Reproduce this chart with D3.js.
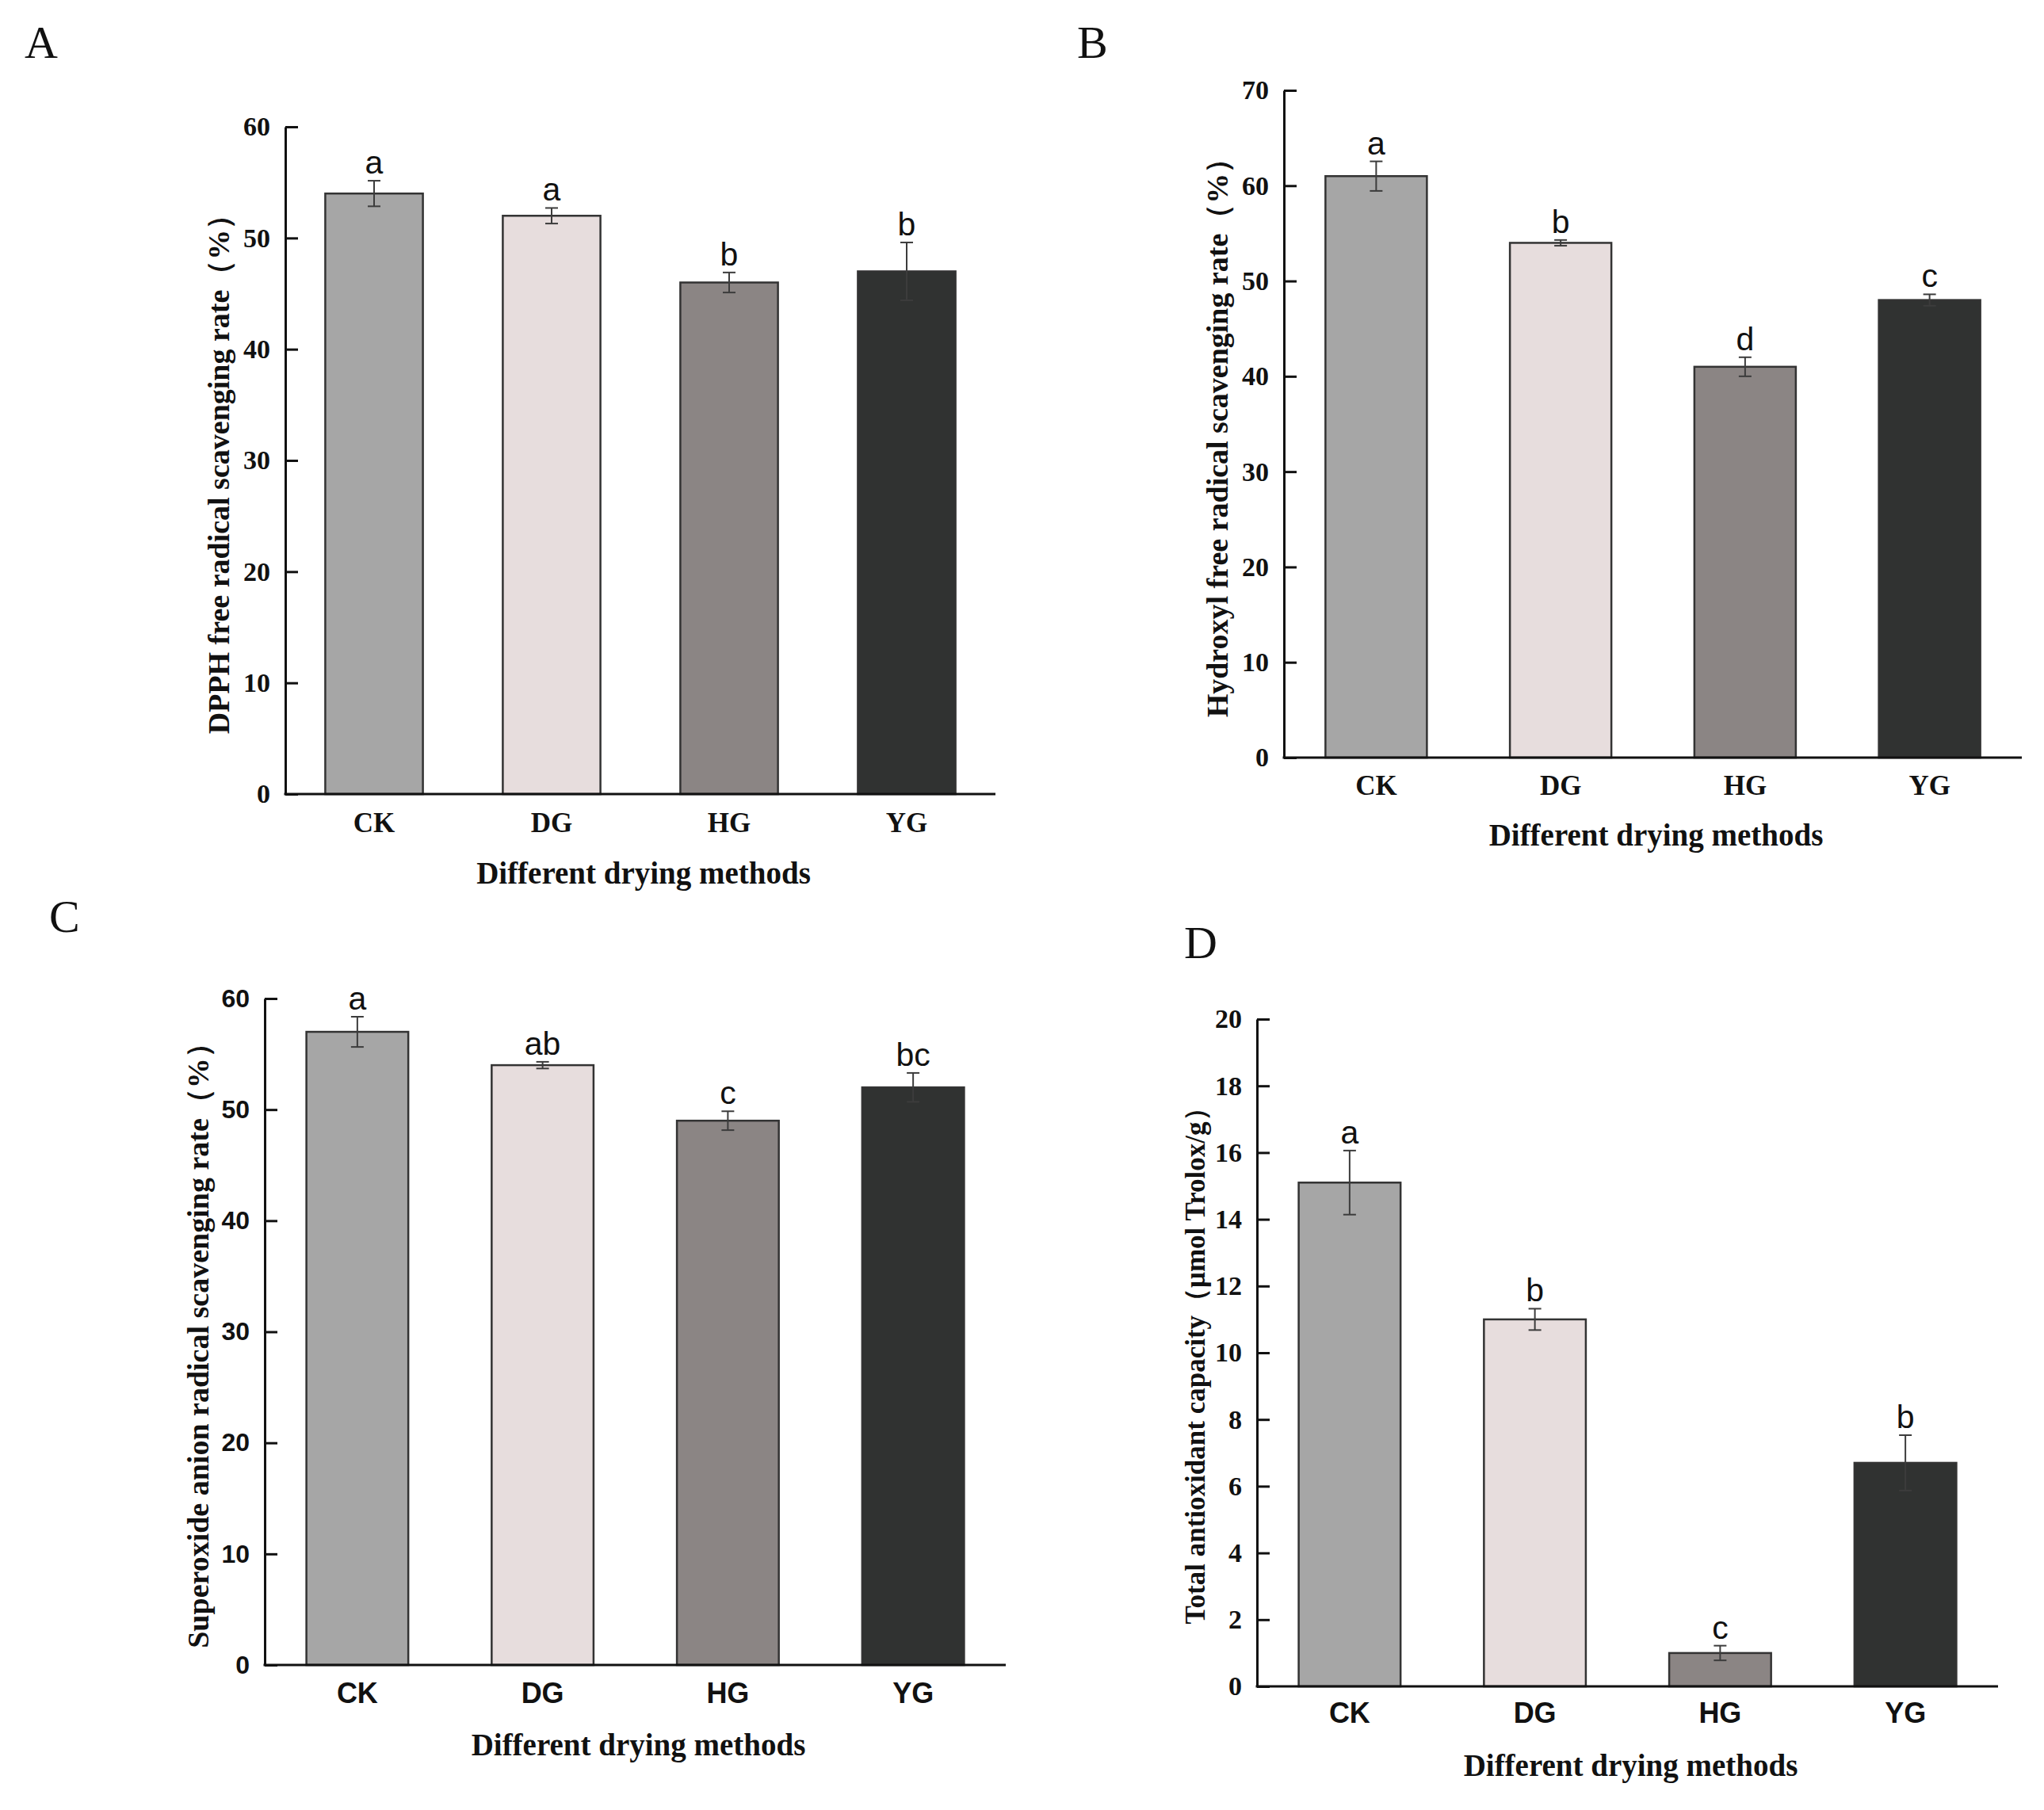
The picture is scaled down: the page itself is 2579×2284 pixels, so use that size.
<!DOCTYPE html>
<html>
<head>
<meta charset="utf-8">
<script src="https://cdn.jsdelivr.net/npm/d3@7"></script>
<style>
  html, body { margin: 0; padding: 0; background: #fff; }
</style>
</head>
<body>
<div id="chart"></div>
<script>
// categories and bar colours shared by the four panels
var categories = ["CK", "DG", "HG", "YG"];
var barColors = ["#a6a6a6", "#e7dddd", "#8b8584", "#303231"];

// A - DPPH
var dpphValues = [54, 52, 46, 47];
var dpphErrors = [1.15, 0.7, 0.9, 2.6];
var dpphLetters = ["a", "a", "b", "b"];
var dpphTicks = [0, 10, 20, 30, 40, 50, 60];

// B - hydroxyl
var hydroxylValues = [61, 54, 41, 48];
var hydroxylErrors = [1.55, 0.3, 1.0, 0.6];
var hydroxylLetters = ["a", "b", "d", "c"];
var hydroxylTicks = [0, 10, 20, 30, 40, 50, 60, 70];

// C - superoxide anion
var superoxideValues = [57, 54, 49, 52];
var superoxideErrors = [1.36, 0.3, 0.85, 1.3];
var superoxideLetters = ["a", "ab", "c", "bc"];
var superoxideTicks = [0, 10, 20, 30, 40, 50, 60];

// D - total antioxidant capacity
var tacValues = [15.1, 11.0, 1.0, 6.7];
var tacErrors = [0.96, 0.32, 0.22, 0.83];
var tacLetters = ["a", "b", "c", "b"];
var tacTicks = [0, 2, 4, 6, 8, 10, 12, 14, 16, 18, 20];

var serif = "'Liberation Serif', 'Times New Roman', serif";
var sans = "'Liberation Sans', Arial, sans-serif";

var W = 2579, H = 2284;

var svg = d3.select("#chart").append("svg")
    .attr("width", W)
    .attr("height", H)
    .style("background", "#fff");

var panels = [
    { tag: "A", tagX: 31, tagY: 73,
      values: dpphValues, errors: dpphErrors, letters: dpphLetters, ticks: dpphTicks,
      x0: 360, x1: 1256, yTop: 160, yBottom: 1002,
      tickFont: serif, tickSize: 34, catFont: serif, catSize: 35, catBase: 48,
      yTitle: "DPPH free radical scavenging rate（%）", yTitleX: 289, yTitleSize: 38,
      xTitleBase: 1115 },
    { tag: "B", tagX: 1359, tagY: 73,
      values: hydroxylValues, errors: hydroxylErrors, letters: hydroxylLetters, ticks: hydroxylTicks,
      x0: 1620, x1: 2551, yTop: 114, yBottom: 956,
      tickFont: serif, tickSize: 34, catFont: serif, catSize: 35, catBase: 47,
      yTitle: "Hydroxyl free radical scavenging rate（%）", yTitleX: 1549, yTitleSize: 38,
      xTitleBase: 1067 },
    { tag: "C", tagX: 62, tagY: 1176,
      values: superoxideValues, errors: superoxideErrors, letters: superoxideLetters, ticks: superoxideTicks,
      x0: 334, x1: 1269, yTop: 1260, yBottom: 2101,
      tickFont: sans, tickSize: 32, catFont: sans, catSize: 36, catBase: 48,
      yTitle: "Superoxide anion radical scavenging rate（%）", yTitleX: 263, yTitleSize: 38,
      xTitleBase: 2215 },
    { tag: "D", tagX: 1494, tagY: 1209,
      values: tacValues, errors: tacErrors, letters: tacLetters, ticks: tacTicks,
      x0: 1586, x1: 2521, yTop: 1286, yBottom: 2128,
      tickFont: serif, tickSize: 34, catFont: sans, catSize: 36, catBase: 46,
      yTitle: "Total antioxidant capacity（μmol Trolox/g）", yTitleX: 1520, yTitleSize: 35,
      xTitleBase: 2241 }
];

panels.forEach(drawPanel);

function drawPanel(p) {
    var g = svg.append("g");

    var x = d3.scaleBand()
        .domain(categories)
        .range([p.x0, p.x1])
        .paddingInner(0.45)
        .paddingOuter(0.225);

    var y = d3.scaleLinear()
        .domain([0, d3.max(p.ticks)])
        .range([p.yBottom, p.yTop]);

    var rows = categories.map(function(c, i) {
        return { cat: c, v: p.values[i], e: p.errors[i], letter: p.letters[i], fill: barColors[i] };
    });

    // bars
    g.selectAll("rect.bar")
        .data(rows)
        .enter().append("rect")
        .attr("class", "bar")
        .attr("x", function(d) { return x(d.cat); })
        .attr("width", x.bandwidth())
        .attr("y", function(d) { return y(d.v); })
        .attr("height", function(d) { return y(0) - y(d.v); })
        .attr("fill", function(d) { return d.fill; })
        .attr("stroke", "#333")
        .attr("stroke-width", 2.5);

    // error bars
    var eb = g.selectAll("g.err")
        .data(rows)
        .enter().append("g")
        .attr("class", "err")
        .attr("stroke", "#3c3c3c")
        .attr("stroke-width", 2);
    eb.append("line")
        .attr("x1", function(d) { return x(d.cat) + x.bandwidth() / 2; })
        .attr("x2", function(d) { return x(d.cat) + x.bandwidth() / 2; })
        .attr("y1", function(d) { return y(d.v - d.e); })
        .attr("y2", function(d) { return y(d.v + d.e); });
    [-1, 1].forEach(function(s) {
        eb.append("line")
            .attr("x1", function(d) { return x(d.cat) + x.bandwidth() / 2 - 8; })
            .attr("x2", function(d) { return x(d.cat) + x.bandwidth() / 2 + 8; })
            .attr("y1", function(d) { return y(d.v + s * d.e); })
            .attr("y2", function(d) { return y(d.v + s * d.e); });
    });

    // significance letters
    g.selectAll("text.sig")
        .data(rows)
        .enter().append("text")
        .attr("class", "sig")
        .attr("x", function(d) { return x(d.cat) + x.bandwidth() / 2; })
        .attr("y", function(d) { return y(d.v + d.e) - 9; })
        .attr("text-anchor", "middle")
        .style("font-family", sans)
        .style("font-size", "41px")
        .attr("fill", "#111")
        .text(function(d) { return d.letter; });

    // y axis, ticks pointing inward
    var yAxis = g.append("g")
        .attr("transform", "translate(" + p.x0 + ",0)")
        .call(d3.axisLeft(y)
            .tickValues(p.ticks)
            .tickSizeInner(-16)
            .tickSizeOuter(0)
            .tickPadding(19)
            .tickFormat(d3.format("d")));
    yAxis.select(".domain").attr("stroke", "#111").attr("stroke-width", 3);
    yAxis.selectAll(".tick line").attr("stroke", "#111").attr("stroke-width", 3);
    yAxis.selectAll(".tick text")
        .attr("fill", "#111")
        .style("font-family", p.tickFont)
        .style("font-size", p.tickSize + "px")
        .style("font-weight", "bold");

    // x axis
    var xAxis = g.append("g")
        .attr("transform", "translate(0," + p.yBottom + ")")
        .call(d3.axisBottom(x)
            .tickSize(0)
            .tickPadding(p.catBase - 0.71 * p.catSize));
    xAxis.select(".domain")
        .attr("d", "M" + (p.x0 - 1.5) + ",0H" + p.x1)
        .attr("stroke", "#111").attr("stroke-width", 3);
    xAxis.selectAll(".tick text")
        .attr("fill", "#111")
        .style("font-family", p.catFont)
        .style("font-size", p.catSize + "px")
        .style("font-weight", "bold");

    // axis titles
    g.append("text")
        .attr("transform", "translate(" + p.yTitleX + "," + ((p.yTop + p.yBottom) / 2 + 8) + ") rotate(-90)")
        .attr("text-anchor", "middle")
        .style("font-family", serif)
        .style("font-size", p.yTitleSize + "px")
        .style("font-weight", "bold")
        .attr("fill", "#111")
        .text(p.yTitle);

    g.append("text")
        .attr("x", (p.x0 + p.x1) / 2 + 4)
        .attr("y", p.xTitleBase)
        .attr("text-anchor", "middle")
        .style("font-family", serif)
        .style("font-size", "39px")
        .style("font-weight", "bold")
        .attr("fill", "#111")
        .text("Different drying methods");

    // panel tag
    g.append("text")
        .attr("x", p.tagX)
        .attr("y", p.tagY)
        .style("font-family", serif)
        .style("font-size", "58px")
        .attr("fill", "#111")
        .text(p.tag);
}
</script>
</body>
</html>
